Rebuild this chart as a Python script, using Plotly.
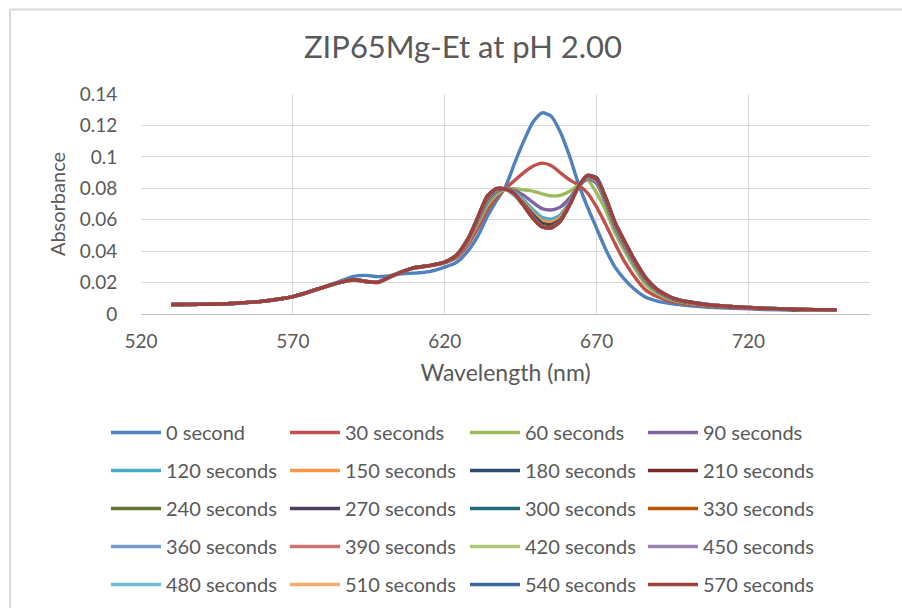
import plotly.graph_objects as go

# ---------------- data ----------------
wavelength = [530, 540, 550, 560, 565, 570, 575, 580, 585, 590, 594, 598, 602, 606, 610, 615,
              620, 624, 628, 631, 634, 637, 640, 643, 646, 649, 652, 655, 658, 661, 664, 667,
              670, 673, 676, 679, 682, 686, 690, 695, 700, 707, 715, 725, 735, 742, 749]

s0 = [.0060, .0062, .0067, .0082, .0094, .0110, .0138, .0170, .0205, .0240, .0246, .0238, .0244, .0256, .0260, .0270,
      .0298, .0330, .0410, .0500, .0620, .0720, .0810, .0960, .1100, .1220, .1280, .1260, .1160, .1010, .0830, .0680,
      .0545, .0410, .0300, .0225, .0165, .0108, .0082, .0064, .0053, .0043, .0036, .0029, .0025, .0023, .0024]
s30 = [.0060, .0062, .0067, .0081, .0093, .0110, .0137, .0168, .0198, .0215, .0206, .0200, .0232, .0270, .0290, .0306,
       .0326, .0360, .0450, .0550, .0660, .0740, .0800, .0850, .0900, .0940, .0960, .0945, .0900, .0855, .0820, .0770,
       .0680, .0570, .0450, .0340, .0250, .0155, .0110, .0078, .0063, .0050, .0041, .0033, .0028, .0026, .0026]
s60 = [.0060, .0062, .0067, .0081, .0093, .0110, .0137, .0168, .0199, .0218, .0208, .0203, .0236, .0272, .0292, .0308,
       .0330, .0370, .0470, .0580, .0690, .0760, .0795, .0797, .0790, .0782, .0765, .0752, .0755, .0780, .0820, .0852,
       .0770, .0660, .0520, .0410, .0310, .0190, .0130, .0088, .0070, .0055, .0044, .0035, .0029, .0027, .0027]
s90 = [.0060, .0062, .0067, .0081, .0093, .0111, .0138, .0169, .0199, .0218, .0207, .0202, .0236, .0272, .0293, .0308,
       .0330, .0372, .0478, .0595, .0712, .0778, .0797, .0785, .0755, .0710, .0670, .0662, .0680, .0735, .0810, .0862,
       .0830, .0705, .0550, .0435, .0330, .0210, .0142, .0094, .0073, .0057, .0045, .0035, .0029, .0027, .0027]
s120 = [.0060, .0062, .0067, .0081, .0093, .0111, .0138, .0169, .0199, .0218, .0207, .0201, .0237, .0270, .0294, .0308,
        .0330, .0373, .0482, .0605, .0725, .0788, .0797, .0772, .0725, .0665, .0615, .0604, .0630, .0710, .0805, .0868,
        .0845, .0718, .0563, .0445, .0338, .0217, .0146, .0096, .0074, .0058, .0045, .0036, .0029, .0027, .0027]
s150 = [.0060, .0062, .0067, .0081, .0093, .0111, .0138, .0169, .0199, .0218, .0207, .0201, .0237, .0270, .0294, .0308,
        .0330, .0374, .0485, .0610, .0732, .0792, .0796, .0766, .0710, .0645, .0595, .0584, .0612, .0700, .0806, .0872,
        .0852, .0725, .0570, .0452, .0344, .0222, .0149, .0097, .0075, .0058, .0046, .0036, .0029, .0027, .0027]
s180 = [.0060, .0062, .0067, .0081, .0094, .0111, .0139, .0170, .0199, .0218, .0208, .0202, .0237, .0269, .0295, .0308,
        .0330, .0374, .0487, .0614, .0736, .0794, .0796, .0762, .0700, .0632, .0578, .0568, .0600, .0695, .0807, .0876,
        .0856, .0730, .0575, .0458, .0350, .0226, .0151, .0098, .0075, .0059, .0046, .0036, .0029, .0027, .0027]
s210 = [.0060, .0062, .0067, .0081, .0094, .0111, .0139, .0170, .0200, .0218, .0208, .0202, .0237, .0269, .0295, .0308,
        .0330, .0375, .0488, .0616, .0738, .0795, .0796, .0760, .0696, .0625, .0570, .0560, .0595, .0692, .0808, .0878,
        .0858, .0732, .0578, .0461, .0353, .0228, .0152, .0099, .0076, .0059, .0046, .0036, .0029, .0027, .0027]
s240 = [.0060, .0062, .0067, .0081, .0094, .0111, .0139, .0170, .0200, .0218, .0208, .0202, .0237, .0269, .0295, .0308,
        .0330, .0375, .0489, .0617, .0740, .0796, .0796, .0759, .0694, .0621, .0565, .0555, .0592, .0690, .0808, .0879,
        .0859, .0734, .0580, .0463, .0355, .0230, .0153, .0100, .0076, .0059, .0046, .0036, .0029, .0027, .0028]
s270 = [.0061, .0062, .0067, .0081, .0094, .0111, .0139, .0170, .0200, .0218, .0207, .0202, .0238, .0269, .0295, .0308,
        .0330, .0375, .0489, .0618, .0742, .0797, .0795, .0757, .0692, .0618, .0562, .0552, .0591, .0690, .0809, .0880,
        .0860, .0735, .0581, .0465, .0356, .0231, .0153, .0100, .0077, .0059, .0046, .0036, .0029, .0027, .0027]
s300 = [.0060, .0062, .0067, .0081, .0094, .0111, .0139, .0170, .0200, .0218, .0207, .0202, .0238, .0269, .0295, .0308,
        .0330, .0375, .0489, .0618, .0744, .0797, .0795, .0757, .0691, .0616, .0560, .0551, .0590, .0690, .0809, .0880,
        .0860, .0736, .0582, .0466, .0357, .0232, .0154, .0101, .0077, .0060, .0047, .0037, .0030, .0028, .0027]
s330 = [.0060, .0062, .0067, .0081, .0094, .0111, .0139, .0170, .0200, .0218, .0207, .0202, .0238, .0269, .0295, .0308,
        .0330, .0376, .0490, .0619, .0745, .0797, .0795, .0756, .0691, .0614, .0558, .0550, .0590, .0690, .0810, .0881,
        .0861, .0737, .0583, .0467, .0358, .0233, .0154, .0101, .0077, .0060, .0047, .0037, .0030, .0027, .0028]
s360 = [.0060, .0062, .0067, .0081, .0094, .0111, .0139, .0170, .0201, .0219, .0208, .0202, .0238, .0269, .0295, .0308,
        .0330, .0376, .0490, .0619, .0746, .0798, .0795, .0756, .0690, .0613, .0557, .0549, .0590, .0690, .0810, .0881,
        .0862, .0738, .0583, .0468, .0358, .0234, .0155, .0101, .0078, .0060, .0047, .0037, .0030, .0028, .0027]
s390 = [.0060, .0062, .0067, .0081, .0094, .0111, .0139, .0170, .0200, .0218, .0207, .0202, .0238, .0269, .0295, .0308,
        .0330, .0376, .0490, .0620, .0747, .0798, .0795, .0756, .0690, .0612, .0556, .0549, .0590, .0690, .0810, .0881,
        .0862, .0738, .0584, .0468, .0359, .0234, .0155, .0102, .0078, .0060, .0047, .0037, .0030, .0028, .0028]
s420 = [.0060, .0062, .0067, .0081, .0094, .0111, .0139, .0170, .0200, .0218, .0207, .0202, .0238, .0269, .0295, .0308,
        .0330, .0376, .0490, .0620, .0748, .0798, .0795, .0755, .0690, .0611, .0556, .0548, .0590, .0690, .0810, .0882,
        .0863, .0739, .0584, .0469, .0359, .0235, .0156, .0102, .0078, .0060, .0047, .0037, .0030, .0028, .0027]
s450 = [.0060, .0062, .0067, .0081, .0094, .0111, .0139, .0170, .0200, .0218, .0207, .0202, .0238, .0269, .0295, .0308,
        .0330, .0376, .0490, .0620, .0749, .0798, .0795, .0755, .0690, .0611, .0555, .0548, .0590, .0690, .0810, .0882,
        .0864, .0739, .0585, .0469, .0360, .0235, .0156, .0102, .0078, .0060, .0047, .0037, .0030, .0028, .0028]
s480 = [.0060, .0062, .0067, .0081, .0094, .0111, .0139, .0170, .0200, .0218, .0207, .0202, .0238, .0269, .0295, .0308,
        .0330, .0376, .0490, .0620, .0749, .0798, .0795, .0765, .0690, .0610, .0555, .0548, .0590, .0690, .0810, .0882,
        .0865, .0740, .0585, .0470, .0360, .0235, .0156, .0102, .0078, .0060, .0047, .0037, .0030, .0028, .0027]
s510 = [.0060, .0062, .0067, .0081, .0094, .0111, .0139, .0170, .0200, .0218, .0207, .0202, .0238, .0269, .0295, .0308,
        .0330, .0376, .0490, .0620, .0750, .0798, .0795, .0765, .0690, .0610, .0555, .0548, .0590, .0690, .0810, .0882,
        .0866, .0740, .0585, .0470, .0360, .0235, .0156, .0102, .0078, .0060, .0047, .0037, .0030, .0028, .0028]
s540 = [.0060, .0062, .0067, .0081, .0094, .0111, .0139, .0170, .0200, .0218, .0207, .0202, .0238, .0269, .0295, .0308,
        .0330, .0376, .0490, .0620, .0750, .0798, .0795, .0765, .0690, .0610, .0555, .0548, .0590, .0690, .0810, .0881,
        .0868, .0740, .0585, .0470, .0360, .0235, .0155, .0102, .0078, .0060, .0047, .0037, .0030, .0028, .0027]
s570 = [.0060, .0062, .0067, .0081, .0094, .0111, .0139, .0170, .0200, .0218, .0207, .0202, .0238, .0269, .0295, .0308,
        .0330, .0376, .0490, .0620, .0750, .0798, .0795, .0765, .0690, .0610, .0555, .0548, .0590, .0690, .0810, .0882,
        .0860, .0740, .0585, .0470, .0360, .0235, .0155, .0102, .0078, .0058, .0046, .0036, .0030, .0028, .0027]

series_names = ["0 second", "30 seconds", "60 seconds", "90 seconds", "120 seconds", "150 seconds",
                "180 seconds", "210 seconds", "240 seconds", "270 seconds", "300 seconds", "330 seconds",
                "360 seconds", "390 seconds", "420 seconds", "450 seconds", "480 seconds", "510 seconds",
                "540 seconds", "570 seconds"]
series_values = [s0, s30, s60, s90, s120, s150, s180, s210, s240, s270, s300, s330,
                 s360, s390, s420, s450, s480, s510, s540, s570]
series_colors = ["#4F81BD", "#C0504D", "#9BBB59", "#8064A2", "#4BACC6", "#F79646",
                 "#2C4D75", "#772C2A", "#5F7530", "#4D3B62", "#276A7C", "#B65708",
                 "#729ACA", "#CD7371", "#AFC97A", "#9983B5", "#6FBDD1", "#F9AB6B",
                 "#3A679C", "#A0403C"]

x_ticks = [520, 570, 620, 670, 720]
y_ticks = [0, 0.02, 0.04, 0.06, 0.08, 0.1, 0.12, 0.14]
y_tick_text = ["0", "0.02", "0.04", "0.06", "0.08", "0.1", "0.12", "0.14"]

# ---------------- figure ----------------
FONT = "Lato"
TXT = "#595959"
W, H = 902, 608
ML, MR, MT, MB = 141, 32, 94, 294
PW, PH = W - ML - MR, H - MT - MB

def px_x(px):
    return (px - ML) / PW

def px_y(py):
    return (H - MB - py) / PH

fig = go.Figure()
legend_ids = ["legend", "legend2", "legend3", "legend4"]
for i, (name, vals, col) in enumerate(zip(series_names, series_values, series_colors)):
    fig.add_trace(go.Scatter(
        x=wavelength, y=vals, mode="lines", name=name,
        line=dict(color=col, width=3.4, shape="spline", smoothing=0.6),
        legend=legend_ids[i % 4], legendgroup=str(i),
        hoverinfo="x+y+name",
    ))

leg_common = dict(orientation="v", xanchor="left", yanchor="top", traceorder="grouped",
                  tracegroupgap=9, itemwidth=50, bgcolor="rgba(0,0,0,0)",
                  font=dict(family=FONT, size=20, color=TXT))
leg_text_x = [166, 345, 525, 703]
leg_top = 413
legends = {}
for k, lid in enumerate(legend_ids):
    legends[lid] = dict(leg_common, x=px_x(leg_text_x[k] - 60), y=px_y(leg_top))

fig.update_layout(
    width=W, height=H,
    margin=dict(l=ML, r=MR, t=MT, b=MB, autoexpand=False),
    paper_bgcolor="white", plot_bgcolor="white",
    font=dict(family=FONT, color=TXT),
    title=dict(text="ZIP65Mg-Et at pH 2.00", x=463 / W, xref="container", xanchor="center",
               y=1 - 47 / H, yref="container", yanchor="middle",
               font=dict(family=FONT, size=31, color=TXT)),
    xaxis=dict(range=[520, 760], tickmode="array", tickvals=x_ticks,
               showgrid=True, gridcolor="#D9D9D9", gridwidth=1,
               showline=True, linecolor="#BFBFBF", linewidth=1,
               ticks="outside", ticklen=10, tickcolor="rgba(0,0,0,0)",
               zeroline=False, tickfont=dict(family=FONT, size=19, color=TXT),
               title=dict(text="Wavelength (nm)", standoff=14,
                          font=dict(family=FONT, size=23, color=TXT))),
    yaxis=dict(range=[0, 0.14], tickmode="array", tickvals=y_ticks, ticktext=y_tick_text,
               showgrid=True, gridcolor="#D9D9D9", gridwidth=1,
               showline=False, zeroline=False,
               ticks="outside", ticklen=19, tickcolor="rgba(0,0,0,0)",
               tickfont=dict(family=FONT, size=19, color=TXT),
               title=dict(text="Absorbance", standoff=8,
                          font=dict(family=FONT, size=20, color=TXT))),
    showlegend=True,
    **legends,
    shapes=[dict(type="rect", xref="paper", yref="paper",
                 x0=px_x(10), x1=px_x(910), y0=px_y(615), y1=px_y(9.5),
                 line=dict(color="#D9D9D9", width=2), fillcolor="rgba(0,0,0,0)", layer="below")],
)

fig.write_html("out.html")
